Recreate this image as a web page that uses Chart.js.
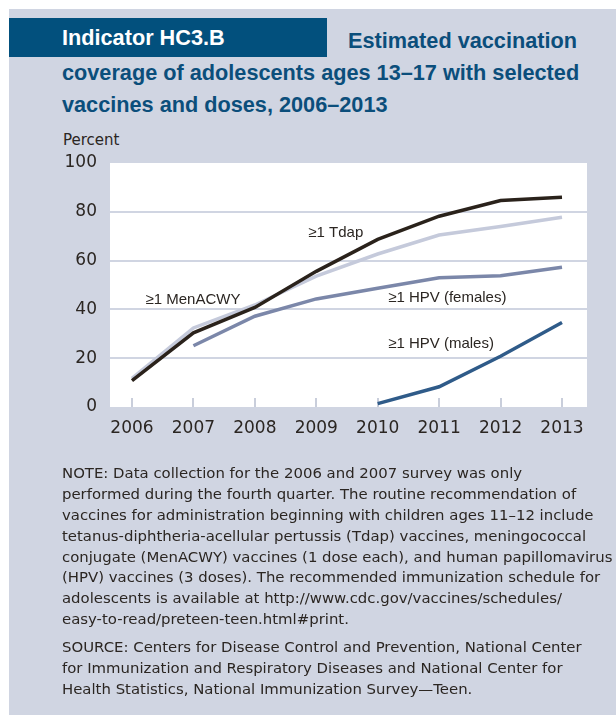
<!DOCTYPE html>
<html>
<head>
<meta charset="utf-8">
<title>Indicator HC3.B</title>
<script src="https://cdn.jsdelivr.net/npm/chart.js@4.4.1/dist/chart.umd.min.js"></script>
<style>
  html, body { margin: 0; padding: 0; background: #ffffff; }
  #page { position: relative; width: 616px; height: 715px; overflow: hidden; background: #ffffff; }
  #panel { position: absolute; left: 9px; top: 9px; width: 607px; height: 706px; background: #d0d5e2; }
  #tag { position: absolute; left: 9px; top: 18px; width: 318px; height: 39px; background: #02507d; }
  .title { position: absolute; white-space: pre; font-family: "Liberation Sans", Arial, sans-serif;
           font-weight: bold; font-size: 21.7px; line-height: 32px; color: #0b4e7b; }
  #tagText { color: #ffffff; }
  #unit { position: absolute; left: 63px; top: 130.8px; font-family: "DejaVu Sans", sans-serif;
          font-size: 15px; line-height: 18px; color: #2b2622; white-space: pre; }
  .note { position: absolute; left: 62px; white-space: pre; font-family: "DejaVu Sans", sans-serif;
          font-size: 14.9px; line-height: 20.8px; color: #2b2622; }
  #chart { position: absolute; left: 0; top: 0; }
</style>
</head>
<body>
<div id="page">
  <div id="panel"></div>
  <div id="tag"></div>
  <div class="title" id="tagText" style="left:62px; top:21.5px;">Indicator HC3.B</div>
  <div class="title" style="left:348px; top:24.5px;">Estimated vaccination</div>
  <div class="title" style="left:62px; top:56.5px;">coverage of adolescents ages 13–17 with selected</div>
  <div class="title" style="left:62px; top:88.5px;">vaccines and doses, 2006–2013</div>
  <div id="unit">Percent</div>
  <canvas id="chart" width="616" height="715"></canvas>
  <div class="note" style="top:463.4px;">NOTE: Data collection for the 2006 and 2007 survey was only
performed during the fourth quarter. The routine recommendation of
vaccines for administration beginning with children ages 11–12 include
tetanus-diphtheria-acellular pertussis (Tdap) vaccines, meningococcal
conjugate (MenACWY) vaccines (1 dose each), and human papillomavirus
(HPV) vaccines (3 doses). The recommended immunization schedule for
adolescents is available at http://www.cdc.gov/vaccines/schedules/
easy-to-read/preteen-teen.html#print.</div>
  <div class="note" style="top:637.4px;">SOURCE: Centers for Disease Control and Prevention, National Center
for Immunization and Respiratory Diseases and National Center for
Health Statistics, National Immunization Survey—Teen.</div>
</div>

<script>
// Survey years and coverage (percent of adolescents 13–17)
const years = [2006, 2007, 2008, 2009, 2010, 2011, 2012, 2013];
const tdap = [10.8, 30.4, 40.8, 55.6, 68.7, 78.2, 84.6, 86.0];
const menacwy = [11.7, 32.4, 41.8, 53.6, 62.7, 70.5, 74.0, 77.8];
const hpvFemales = [null, 25.1, 37.2, 44.3, 48.7, 53.0, 53.8, 57.3];
const hpvMales = [null, null, null, null, 1.4, 8.3, 20.8, 34.6];
const yTicks = [0, 20, 40, 60, 80, 100];

// Series names as written next to each line
const seriesNames = ["≥1 Tdap", "≥1 MenACWY", "≥1 HPV (females)", "≥1 HPV (males)"];

// Where each series name sits, in axis units (year, percent at text baseline)
const nameAnchors = [
  { year: 2008.87, pct: 69.8 },
  { year: 2006.22, pct: 42.2 },
  { year: 2010.17, pct: 43.0 },
  { year: 2010.17, pct: 24.2 }
];

const ink = "#2b2622";
const gridColor = "#d0d5e2";

function points(values) {
  return years.map((yr, i) => ({ x: yr, y: values[i] })).filter(p => p.y !== null);
}

function lineSet(label, values, color) {
  return {
    label, data: points(values), borderColor: color, backgroundColor: color,
    borderWidth: 3.5, pointRadius: 0, tension: 0, fill: false,
    borderCapStyle: "butt", borderJoinStyle: "miter"
  };
}

// White plotting field
const plotField = {
  id: "plotField",
  beforeDraw(chart) {
    const a = chart.chartArea, c = chart.ctx;
    c.save();
    c.fillStyle = "#ffffff";
    c.fillRect(a.left, a.top, a.right - a.left, a.bottom - a.top);
    c.restore();
  }
};

// Short year marks rising from the bottom edge of the field
const yearMarks = {
  id: "yearMarks",
  beforeDatasetsDraw(chart) {
    const x = chart.scales.x, a = chart.chartArea, c = chart.ctx;
    c.save();
    c.strokeStyle = "#c9cedb";
    c.lineWidth = 2;
    years.forEach(yr => {
      const px = Math.round(x.getPixelForValue(yr));
      c.beginPath();
      c.moveTo(px, a.bottom - 9);
      c.lineTo(px, a.bottom);
      c.stroke();
    });
    c.restore();
  }
};

// Series names placed beside their lines
const seriesNameLabels = {
  id: "seriesNameLabels",
  afterDatasetsDraw(chart) {
    const x = chart.scales.x, y = chart.scales.y, c = chart.ctx;
    c.save();
    c.fillStyle = ink;
    c.font = '15px "Liberation Sans", Arial, sans-serif';
    c.textAlign = "left";
    c.textBaseline = "alphabetic";
    seriesNames.forEach((name, i) => {
      const p = nameAnchors[i];
      c.fillText(name, x.getPixelForValue(p.year), y.getPixelForValue(p.pct));
    });
    c.restore();
  }
};

new Chart(document.getElementById("chart"), {
  type: "line",
  data: {
    datasets: [
      lineSet(seriesNames[0], tdap, "#2a221b"),
      lineSet(seriesNames[1], menacwy, "#c5cadb"),
      lineSet(seriesNames[2], hpvFemales, "#7b87a9"),
      lineSet(seriesNames[3], hpvMales, "#2f5b89")
    ]
  },
  options: {
    responsive: false,
    animation: false,
    devicePixelRatio: 1,
    layout: { padding: { left: 50, top: 163, right: 29, bottom: 268 } },
    plugins: { legend: { display: false }, tooltip: { enabled: false }, title: { display: false } },
    scales: {
      x: {
        type: "linear",
        min: 2005.642,
        max: 2013.407,
        afterBuildTicks: s => { s.ticks = years.map(v => ({ value: v })); },
        afterFit: s => { s.height = 40; },
        grid: { display: false, drawTicks: false },
        border: { display: false },
        ticks: {
          padding: 11,
          maxRotation: 0,
          autoSkip: false,
          color: ink,
          font: { family: '"DejaVu Sans", sans-serif', size: 17 },
          callback: v => String(v)
        }
      },
      y: {
        min: 0,
        max: 100,
        afterBuildTicks: s => { s.ticks = yTicks.map(v => ({ value: v })); },
        afterFit: s => { s.width = 60; },
        grid: {
          drawTicks: false,
          lineWidth: 2,
          color: c => (c.tick && (c.tick.value === 0 || c.tick.value === 100)) ? "rgba(0,0,0,0)" : gridColor
        },
        border: { display: false },
        ticks: {
          padding: 13,
          color: ink,
          font: { family: '"DejaVu Sans", sans-serif', size: 17 },
          callback: v => String(v)
        }
      }
    }
  },
  plugins: [plotField, yearMarks, seriesNameLabels]
});
</script>
</body>
</html>
